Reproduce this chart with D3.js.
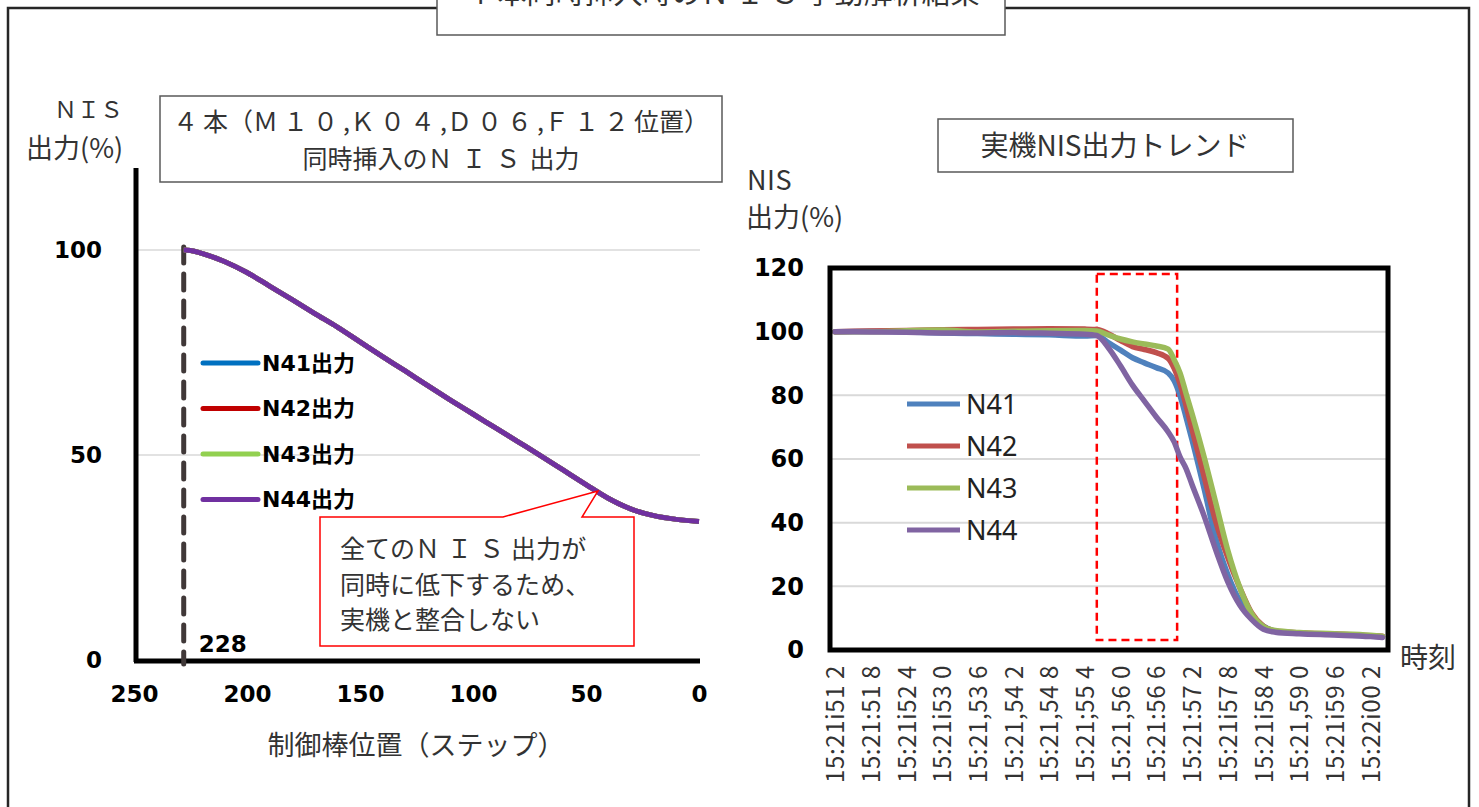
<!DOCTYPE html>
<html lang="ja">
<head>
<meta charset="utf-8">
<title>4本同時挿入時のNIS挙動解析結果</title>
<script src="https://d3js.org/d3.v7.min.js"></script>
<style>
  body { margin: 0; background: #fff; }
  svg { display: block; }
  .jp { font-family: "Noto Sans CJK JP", sans-serif; fill: #333; }
  .num { font-family: "DejaVu Sans", "Noto Sans CJK JP", sans-serif; font-weight: bold; fill: #000; }
</style>
</head>
<body>
<script>
const W = 1479, H = 807;

// ---- left chart: simulated NIS output vs rod position ----
const stepPos = [228, 225, 220, 210, 200, 190, 180, 170, 160, 150, 140, 130, 120, 110, 100, 90, 80, 70, 60, 50, 40, 30, 20, 10, 0];
const simN41 = [100, 99.9, 99.2, 97.2, 94.5, 91.2, 87.9, 84.5, 81.2, 77.6, 74.0, 70.5, 66.9, 63.4, 60.0, 56.6, 53.2, 49.8, 46.3, 42.8, 39.4, 36.8, 35.2, 34.3, 33.8];
const simN42 = [100, 99.9, 99.2, 97.2, 94.5, 91.2, 87.9, 84.5, 81.2, 77.6, 74.0, 70.5, 66.9, 63.4, 60.0, 56.6, 53.2, 49.8, 46.3, 42.8, 39.4, 36.8, 35.2, 34.3, 33.8];
const simN43 = [100, 99.9, 99.2, 97.2, 94.5, 91.2, 87.9, 84.5, 81.2, 77.6, 74.0, 70.5, 66.9, 63.4, 60.0, 56.6, 53.2, 49.8, 46.3, 42.8, 39.4, 36.8, 35.2, 34.3, 33.8];
const simN44 = [100, 99.9, 99.2, 97.2, 94.5, 91.2, 87.9, 84.5, 81.2, 77.6, 74.0, 70.5, 66.9, 63.4, 60.0, 56.6, 53.2, 49.8, 46.3, 42.8, 39.4, 36.8, 35.2, 34.3, 33.8];
const simNames = ["N41出力", "N42出力", "N43出力", "N44出力"];
const simColors = ["#0070C0", "#C00000", "#92D050", "#7030A0"];
const leftXTicks = [250, 200, 150, 100, 50, 0];
const leftYTicks = [0, 50, 100];
const insertStart = 228;

// ---- right chart: plant NIS trend (seconds after 15:21:51.2) ----
const tSec = [0, 0.6, 1.2, 1.8, 2.4, 3.0, 3.6, 4.2, 4.4, 4.6, 4.8, 5.0, 5.2, 5.4, 5.6, 5.7, 5.8, 5.9, 6.0, 6.2, 6.4, 6.6, 6.8, 7.0, 7.2, 7.4, 7.8, 8.4, 9.0, 9.2];
const realN41 = [100, 100.1, 99.9, 99.6, 99.4, 99.2, 99.0, 98.6, 98.8, 96.5, 94.2, 91.8, 90.2, 88.7, 87.0, 84.6, 79.8, 73.1, 66.0, 50.9, 35.0, 23.8, 15.5, 10.5, 7.5, 5.9, 5.3, 4.9, 4.4, 4.2];
const realN42 = [100, 100.2, 100.4, 100.6, 100.7, 100.8, 100.9, 100.8, 100.7, 99.3, 97.2, 95.3, 94.4, 93.4, 91.6, 88.5, 83.5, 76.8, 69.4, 54.8, 40.3, 29.1, 19.7, 11.7, 7.5, 6.0, 5.4, 5.0, 4.5, 4.3];
const realN43 = [100, 100.0, 100.3, 100.5, 99.9, 100.1, 100.3, 100.4, 100.2, 98.9, 97.7, 96.8, 96.1, 95.5, 94.5, 91.2, 87.0, 80.6, 74.3, 60.9, 46.2, 31.4, 19.8, 11.5, 7.4, 6.1, 5.5, 5.1, 4.6, 4.3];
const realN44 = [100, 99.9, 99.8, 99.6, 99.6, 99.7, 99.5, 99.2, 98.8, 94.8, 89.2, 83.2, 78.2, 73.2, 68.5, 65.4, 60.6, 57.0, 52.0, 42.3, 31.4, 21.5, 14.2, 9.6, 6.5, 5.6, 5.1, 4.7, 4.2, 3.9];
const realNames = ["N41", "N42", "N43", "N44"];
const realColors = ["#4F81BD", "#C0504D", "#9BBB59", "#8064A2"];
const timeTicks = [0, 0.6, 1.2, 1.8, 2.4, 3.0, 3.6, 4.2, 4.8, 5.4, 6.0, 6.6, 7.2, 7.8, 8.4, 9.0];
const timeLabels = ["15:21i51 2", "15:21:51 8", "15:21i52 4", "15:21i53 0", "15:21,53 6", "15:21,54 2",
                    "15:21,54 8", "15:21;55 4", "15:21,56 0", "15:21:56 6", "15:21:57 2", "15:21i57 8",
                    "15:21i58 4", "15:21,59 0", "15:21i59 6", "15:22i00 2"];
const rightYTicks = [0, 20, 40, 60, 80, 100, 120];
const dropWindow = [4.4, 5.75]; // highlighted interval (s)

const svg = d3.select("body").append("svg")
    .attr("width", W)
    .attr("height", H);

svg.append("rect").attr("width", W).attr("height", H).attr("fill", "#fff");

// full-width letters/digits get extra spacing like the original slide
function spacedText(sel, str, extra) {
    for (const ch of str) {
        const code = ch.codePointAt(0);
        const t = sel.append("tspan").text(ch);
        if (code >= 0xFF10 && code <= 0xFF5A) t.attr("letter-spacing", extra);
    }
    return sel;
}

// outer frame + cut-off title box
svg.append("path")
    .attr("d", "M8," + H + " V8 H1469 V" + H)
    .attr("fill", "none").attr("stroke", "#262626").attr("stroke-width", 2.5);
svg.append("rect")
    .attr("x", 437).attr("y", -10).attr("width", 568).attr("height", 45)
    .attr("fill", "#fff").attr("stroke", "#595959").attr("stroke-width", 1.5);
spacedText(svg.append("text").attr("class", "jp")
    .attr("x", 721).attr("y", 4).attr("text-anchor", "middle")
    .attr("font-size", 29), "４本同時挿入時のＮＩＳ挙動解析結果", 6);

// ================= left chart =================
const xL = d3.scaleLinear().domain([250, 0]).range([134, 699]);
const yL = d3.scaleLinear().domain([0, 120]).range([660, 168]);

const gL = svg.append("g");

gL.selectAll("line.grid")
    .data([50, 100])
    .enter()
    .append("line")
    .attr("x1", 138).attr("x2", 700)
    .attr("y1", d => yL(d)).attr("y2", d => yL(d))
    .attr("stroke", "#d9d9d9").attr("stroke-width", 1.5);

const leftAxis = d3.axisLeft(yL).tickValues(leftYTicks).tickSize(0).tickPadding(34);
gL.append("g").attr("transform", "translate(136,0)").call(leftAxis)
    .call(g => g.select(".domain").remove())
    .selectAll("text").attr("class", "num").attr("font-size", 23).attr("fill", "#000");

const bottomAxis = d3.axisBottom(xL).tickValues(leftXTicks).tickSize(0).tickPadding(26);
gL.append("g").attr("transform", "translate(0,660)").call(bottomAxis)
    .call(g => g.select(".domain").remove())
    .selectAll("text").attr("class", "num").attr("font-size", 23).attr("fill", "#000");

// axis lines
gL.append("line").attr("x1", 136).attr("x2", 136).attr("y1", 168).attr("y2", 662)
    .attr("stroke", "#000").attr("stroke-width", 5);
gL.append("line").attr("x1", 134).attr("x2", 700).attr("y1", 661).attr("y2", 661)
    .attr("stroke", "#000").attr("stroke-width", 5);

// insertion start marker
gL.append("line")
    .attr("x1", xL(insertStart)).attr("x2", xL(insertStart))
    .attr("y1", yL(100) - 3).attr("y2", 664)
    .attr("stroke", "#403838").attr("stroke-width", 5)
    .attr("stroke-dasharray", "16,11").attr("stroke-linecap", "round");
gL.append("text").attr("class", "num").attr("font-size", 23)
    .attr("x", xL(insertStart) + 15).attr("y", 652).text(insertStart);

const simSeries = [simN41, simN42, simN43, simN44];
const lineL = d3.line()
    .x((d, i) => xL(stepPos[i]))
    .y(d => yL(d))
    .curve(d3.curveMonotoneX);

gL.selectAll("path.sim")
    .data(simSeries)
    .enter()
    .append("path")
    .attr("d", lineL)
    .attr("fill", "none")
    .attr("stroke", (d, i) => simColors[i])
    .attr("stroke-width", 5)
    .attr("stroke-linejoin", "round");

// legend
const legL = gL.selectAll("g.leg")
    .data(simNames)
    .enter()
    .append("g")
    .attr("transform", (d, i) => "translate(203," + (363 + i * 45.5) + ")");
legL.append("line").attr("x1", 0).attr("x2", 55)
    .attr("stroke", (d, i) => simColors[i]).attr("stroke-width", 5).attr("stroke-linecap", "round");
legL.append("text").attr("class", "num").attr("font-size", 22)
    .attr("x", 59).attr("dy", "0.36em").text(d => d);

// chart title box
gL.append("rect").attr("x", 160).attr("y", 96).attr("width", 562).attr("height", 86)
    .attr("fill", "#fff").attr("stroke", "#595959").attr("stroke-width", 1.5);
spacedText(gL.append("text").attr("class", "jp").attr("font-size", 25)
    .attr("x", 441).attr("y", 131).attr("text-anchor", "middle"),
    "４本（Ｍ１０,Ｋ０４,Ｄ０６,Ｆ１２位置）", 5);
spacedText(gL.append("text").attr("class", "jp").attr("font-size", 25)
    .attr("x", 441).attr("y", 168).attr("text-anchor", "middle"),
    "同時挿入のＮＩＳ出力", 9);

// y title
spacedText(gL.append("text").attr("class", "jp").attr("font-size", 23)
    .attr("x", 54).attr("y", 118), "ＮＩＳ", 0);
gL.append("text").attr("class", "jp").attr("font-size", 27)
    .attr("x", 26).attr("y", 158).text("出力(%)");

// x title
gL.append("text").attr("class", "jp").attr("font-size", 27)
    .attr("x", 416).attr("y", 755).attr("text-anchor", "middle")
    .text("制御棒位置（ステップ）");

// callout
gL.append("path")
    .attr("d", "M320,517 H503 L598,491 L582,517 H634 V646 H320 Z")
    .attr("fill", "#fff").attr("stroke", "#FF0000").attr("stroke-width", 1.5);
const callLines = ["全てのＮＩＳ出力が", "同時に低下するため、", "実機と整合しない"];
callLines.forEach((s, i) => {
    spacedText(gL.append("text").attr("class", "jp").attr("font-size", 25)
        .attr("x", 340).attr("y", 558 + i * 35.5), s, 7);
});

// ================= right chart =================
const xR = d3.scaleLinear().domain([0, 9]).range([835, 1370.5]);
const yR = d3.scaleLinear().domain([0, 120]).range([650, 268]);

const gR = svg.append("g");

gR.selectAll("line.grid")
    .data([20, 40, 60, 80, 100])
    .enter()
    .append("line")
    .attr("x1", 832).attr("x2", 1386)
    .attr("y1", d => yR(d)).attr("y2", d => yR(d))
    .attr("stroke", "#d9d9d9").attr("stroke-width", 2);

const rightAxis = d3.axisLeft(yR).tickValues(rightYTicks).tickSize(0).tickPadding(26);
gR.append("g").attr("transform", "translate(830,0)").call(rightAxis)
    .call(g => g.select(".domain").remove())
    .selectAll("text").attr("class", "num").attr("font-size", 24).attr("fill", "#000");

const timeAxis = d3.axisBottom(xR).tickValues(timeTicks).tickSize(0)
    .tickFormat((d, i) => timeLabels[i]);
gR.append("g").attr("transform", "translate(0,650)").call(timeAxis)
    .call(g => g.select(".domain").remove())
    .selectAll("text")
    .attr("class", "jp").attr("font-size", 24).attr("fill", "#000")
    .attr("letter-spacing", 0.6)
    .attr("text-anchor", "end")
    .attr("transform", "rotate(-90)")
    .attr("x", -15).attr("y", 0).attr("dy", "0.36em");

// highlighted drop interval
gR.append("rect")
    .attr("x", xR(dropWindow[0])).attr("y", 274)
    .attr("width", xR(dropWindow[1]) - xR(dropWindow[0])).attr("height", 366)
    .attr("fill", "none").attr("stroke", "#FF0000").attr("stroke-width", 2.5)
    .attr("stroke-dasharray", "8,5");

const realSeries = [realN41, realN42, realN43, realN44];
const lineR = d3.line()
    .x((d, i) => xR(tSec[i]))
    .y(d => yR(d))
    .curve(d3.curveMonotoneX);

gR.selectAll("path.real")
    .data(realSeries)
    .enter()
    .append("path")
    .attr("d", lineR)
    .attr("fill", "none")
    .attr("stroke", (d, i) => realColors[i])
    .attr("stroke-width", 5.5)
    .attr("stroke-linejoin", "round")
    .attr("stroke-linecap", "round");

// plot frame
gR.append("rect").attr("x", 830).attr("y", 268).attr("width", 558).attr("height", 382)
    .attr("fill", "none").attr("stroke", "#000").attr("stroke-width", 5);

// legend
const legR = gR.selectAll("g.leg")
    .data(realNames)
    .enter()
    .append("g")
    .attr("transform", (d, i) => "translate(907," + (404 + i * 42) + ")");
legR.append("line").attr("x1", 0).attr("x2", 53)
    .attr("stroke", (d, i) => realColors[i]).attr("stroke-width", 5);
legR.append("text").attr("font-family", "Noto Sans, sans-serif").attr("font-size", 27)
    .attr("fill", "#222").attr("x", 59).attr("dy", "0.36em").text(d => d);

// title box
gR.append("rect").attr("x", 938).attr("y", 119).attr("width", 355).attr("height", 53)
    .attr("fill", "#fff").attr("stroke", "#595959").attr("stroke-width", 1.5);
gR.append("text").attr("class", "jp").attr("font-size", 28)
    .attr("x", 1115).attr("y", 156).attr("text-anchor", "middle")
    .text("実機NIS出力トレンド");

// y title and x title
gR.append("text").attr("class", "jp").attr("font-size", 27)
    .attr("x", 747).attr("y", 190).attr("letter-spacing", 0.5).text("NIS");
gR.append("text").attr("class", "jp").attr("font-size", 27)
    .attr("x", 746).attr("y", 227).text("出力(%)");
gR.append("text").attr("class", "jp").attr("font-size", 28)
    .attr("x", 1400).attr("y", 668).text("時刻");
</script>
</body>
</html>
